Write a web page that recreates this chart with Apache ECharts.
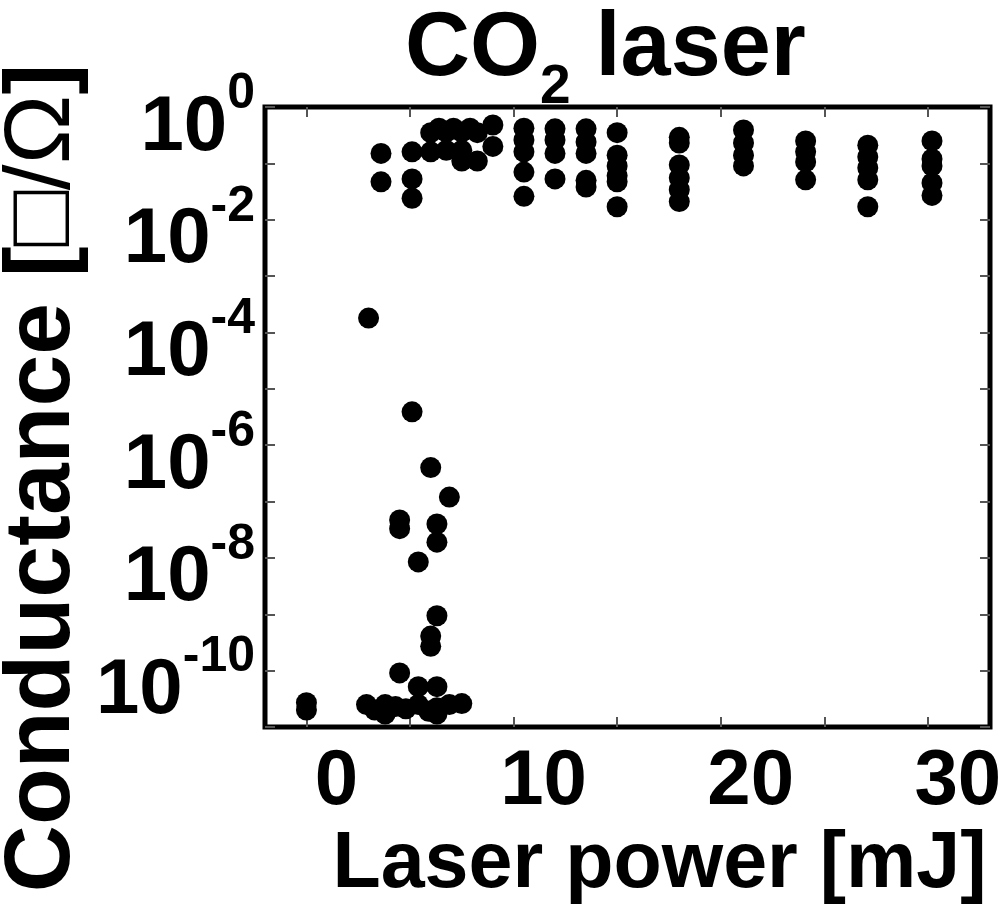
<!DOCTYPE html>
<html>
<head>
<meta charset="utf-8">
<script src="https://cdn.jsdelivr.net/npm/echarts@6.0.0/dist/echarts.min.js"></script>
<style>
  html, body { margin: 0; padding: 0; background: #fff; }
  #chart { width: 1002px; height: 904px; }
</style>
</head>
<body>
<div id="chart"></div>
<script>
// laser power [mJ] and sheet conductance for every sample
const power = [
  0.0, 0.0, 3.0, 4.5, 4.5, 4.5, 5.1, 5.4, 5.4, 6.0, 6.0, 6.0, 6.3, 6.3, 6.3, 6.3, 6.9,
  2.9, 3.3, 3.8, 3.8, 4.3, 4.8, 5.4, 5.9, 6.3, 6.3, 6.9, 7.5,
  3.6, 3.6, 5.1, 5.1, 5.1, 6.0, 6.0, 6.4, 6.75, 6.75, 7.1, 7.5, 7.5, 7.5, 7.9, 8.25, 8.25,
  9.0, 9.0, 10.5, 10.5, 10.5, 10.5, 10.5, 12.0, 12.0, 12.0, 12.0,
  13.5, 13.5, 13.5, 13.5, 13.5, 15.0, 15.0, 15.0, 15.0, 15.0, 15.0,
  18.0, 18.0, 18.0, 18.0, 18.0, 18.0, 21.1, 21.1, 21.1, 21.1,
  24.1, 24.1, 24.1, 24.1, 27.1, 27.1, 27.1, 27.1, 27.1,
  30.2, 30.2, 30.2, 30.2, 30.2
];
const conductance = [
  2.7e-11, 2.0e-11, 1.8e-4, 4.7e-8, 3.3e-8, 9.1e-11, 3.9e-6, 8.5e-9, 5.2e-11, 4.0e-7, 4.1e-10, 2.7e-10, 4.0e-8, 1.9e-8, 9.4e-10, 5.2e-11, 1.2e-7,
  2.5e-11, 2.0e-11, 2.5e-11, 1.7e-11, 2.3e-11, 2.1e-11, 2.5e-11, 1.9e-11, 2.2e-11, 1.7e-11, 2.5e-11, 2.6e-11,
  0.15, 0.047, 0.16, 0.053, 0.024, 0.35, 0.16, 0.42, 0.36, 0.17, 0.42, 0.36, 0.17, 0.11, 0.42, 0.35, 0.11,
  0.48, 0.2, 0.42, 0.26, 0.16, 0.07, 0.026, 0.41, 0.26, 0.15, 0.053,
  0.41, 0.24, 0.15, 0.05, 0.038, 0.35, 0.14, 0.09, 0.06, 0.047, 0.017,
  0.29, 0.23, 0.094, 0.055, 0.034, 0.021, 0.39, 0.23, 0.14, 0.09,
  0.25, 0.16, 0.106, 0.051, 0.21, 0.13, 0.083, 0.051, 0.017,
  0.25, 0.12, 0.09, 0.045, 0.027
];

const xTicks = [0, 5, 10, 15, 20, 25, 30];
const xLabels = [0, 10, 20, 30];
const yTicks = [1e-11, 1e-10, 1e-9, 1e-8, 1e-7, 1e-6, 1e-5, 1e-4, 1e-3, 1e-2, 1e-1, 1];
const yLabels = [1e-10, 1e-8, 1e-6, 1e-4, 1e-2, 1];

const FONT = "'Liberation Sans', Arial, Helvetica, sans-serif";
const tickStyle = { color: '#555', width: 2 };

const chart = echarts.init(document.getElementById('chart'), null, { renderer: 'canvas' });

const option = {
  backgroundColor: '#fff',
  animation: false,
  title: {
    text: '{m|CO}{s|2}{m| laser}',
    left: 405,
    top: 5,
    padding: 0,
    textStyle: {
      rich: {
        m: { fontFamily: FONT, fontWeight: 'bold', fontSize: 90, lineHeight: 90, color: '#000', verticalAlign: 'top' },
        s: { fontFamily: FONT, fontWeight: 'bold', fontSize: 55, lineHeight: 110, color: '#000', verticalAlign: 'bottom' }
      }
    }
  },
  grid: {
    left: 265,
    right: 12,
    top: 107,
    bottom: 177,
    show: true,
    borderColor: '#000',
    borderWidth: 5,
    backgroundColor: 'transparent',
    containLabel: false,
    outerBoundsMode: 'none'
  },
  xAxis: [{
    type: 'value',
    min: -2,
    max: 33,
    name: 'Laser power [mJ]',
    nameLocation: 'middle',
    nameGap: 96,
    nameTextStyle: {
      fontFamily: FONT, fontWeight: 'bold', fontSize: 79, lineHeight: 78, color: '#000',
      padding: [0, 0, 0, 64]
    },
    axisLine: { show: false, onZero: false },
    axisTick: { show: true, inside: true, length: 10, lineStyle: tickStyle, customValues: xTicks },
    axisLabel: {
      customValues: xLabels,
      showMinLabel: true,
      showMaxLabel: true,
      margin: 16,
      fontFamily: FONT, fontWeight: 'bold', fontSize: 78, lineHeight: 78, color: '#000',
      padding: [0, 0, 0, 60]
    },
    splitLine: { show: false }
  }, {
    type: 'value',
    position: 'top',
    min: -2,
    max: 33,
    axisLine: { show: false, onZero: false },
    axisTick: { show: true, inside: true, length: 10, lineStyle: tickStyle, customValues: xTicks },
    axisLabel: { show: false },
    splitLine: { show: false }
  }],
  yAxis: [{
    type: 'log',
    logBase: 10,
    min: 1e-11,
    max: 1,
    name: 'Conductance [{r|□/Ω}]',
    nameLocation: 'middle',
    nameGap: 177,
    nameMoveOverlap: false,
    nameTextStyle: {
      fontFamily: FONT, fontWeight: 'bold', fontSize: 93, lineHeight: 90, color: '#000',
      padding: [0, 122, 0, 0],
      rich: {
        r: { fontFamily: FONT, fontWeight: 'normal', fontSize: 93, lineHeight: 90, color: '#000' }
      }
    },
    axisLine: { show: false, onZero: false },
    axisTick: { show: true, inside: true, length: 10, lineStyle: tickStyle, customValues: yTicks },
    axisLabel: {
      customValues: yLabels,
      showMinLabel: true,
      showMaxLabel: true,
      margin: 10,
      padding: [22, 0, 0, 0],
      formatter: function (value) {
        const e = Math.round(Math.log10(value));
        return '{b|10}{s|' + e + '}';
      },
      rich: {
        b: { fontFamily: FONT, fontWeight: 'bold', fontSize: 78, lineHeight: 98, color: '#000', verticalAlign: 'bottom' },
        s: { fontFamily: FONT, fontWeight: 'bold', fontSize: 50, lineHeight: 50, color: '#000', verticalAlign: 'top' }
      }
    },
    splitLine: { show: false }
  }, {
    type: 'log',
    logBase: 10,
    position: 'right',
    min: 1e-11,
    max: 1,
    axisLine: { show: false, onZero: false },
    axisTick: { show: true, inside: true, length: 10, lineStyle: tickStyle, customValues: yTicks },
    axisLabel: { show: false },
    splitLine: { show: false }
  }],
  series: [{
    type: 'scatter',
    xAxisIndex: 0,
    yAxisIndex: 0,
    symbol: 'circle',
    symbolSize: 21,
    itemStyle: { color: '#000', opacity: 1 },
    emphasis: { disabled: true },
    z: 3,
    data: power.map(function (p, i) { return [p, conductance[i]]; })
  }]
};

chart.setOption(option);
</script>
</body>
</html>
